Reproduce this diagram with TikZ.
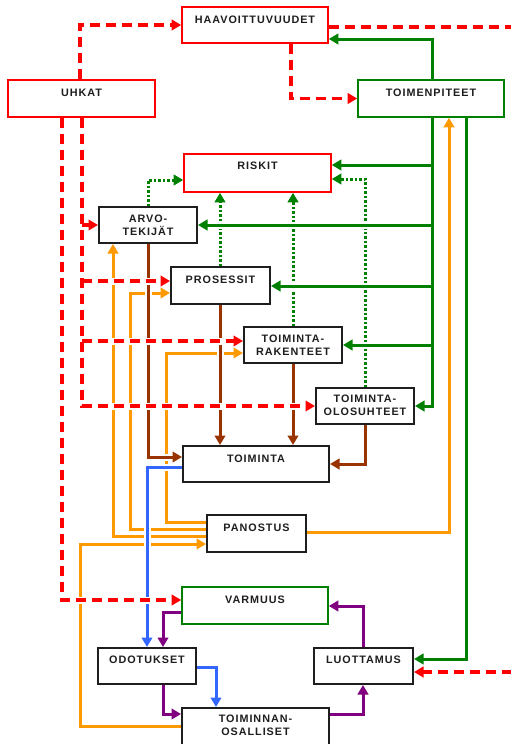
\documentclass[tikz,border=0pt]{standalone}
\usepackage{fontspec}
\setmainfont{Liberation Sans}
\newfontfamily\boxfont[LetterSpace=9.0]{Liberation Sans}
\usetikzlibrary{arrows.meta}
\definecolor{grn}{RGB}{0,128,0}
\definecolor{org}{RGB}{255,153,0}
\definecolor{brn}{RGB}{153,51,0}
\definecolor{blu}{RGB}{51,102,255}
\definecolor{pur}{RGB}{128,0,128}
\definecolor{boxk}{RGB}{30,30,30}
\begin{document}
\begin{tikzpicture}[x=1pt,y=-1pt,
  >={Triangle[length=9.5pt,width=10.5pt]},
  box/.style={draw, fill=white, inner sep=0pt, line width=1.6pt},
  kbox/.style={box, draw=boxk, line width=2pt},
  rbox/.style={box, draw=red},
  gbox/.style={box, draw=grn},
  lbl/.style={font=\boxfont\bfseries\fontsize{10.8}{13}\selectfont, text=boxk, align=center, inner sep=0pt, anchor=north},
  halo/.style={preaction={draw=white, line width=7pt, solid, -, shorten <=4pt, shorten >=2pt}},
  rd/.style={draw=red, line width=3.5pt, dash pattern=on 10pt off 6pt, ->},
  gn/.style={draw=grn, line width=3pt, ->},
  gd/.style={draw=grn, line width=3pt, dash pattern=on 2.5pt off 2pt, ->},
  og/.style={draw=org, line width=3pt, ->},
  bn/.style={draw=brn, line width=3pt, ->},
  bu/.style={draw=blu, line width=3pt, ->},
  pu/.style={draw=pur, line width=3pt, ->}
]
\useasboundingbox (0,0) rectangle (511,744);
\clip (0,0) rectangle (511,744);
% lanes and levels
\foreach \x in {62,80,82,113,130,148,163,166,216,220,291,363,432,449,466,530}
  {\coordinate (X\x) at (\x,0);}
\foreach \y in {27,39,165,179,180,281,286,293,341,353,457,467,522,529,532,536,544,600,606,612,659,667,672,714,726}
  {\coordinate (Y\y) at (0,\y);}
% boxes
\node[rbox, minimum width=146pt, minimum height=36pt] (haav) at (255,25) {};
\node[rbox, minimum width=147pt, minimum height=37pt] (uhkat) at (81.5,98.5) {};
\node[gbox, minimum width=146pt, minimum height=37pt] (toimp) at (431,98.5) {};
\node[rbox, minimum width=147pt, minimum height=38pt] (riskit) at (257.5,173) {};
\node[kbox, minimum width=98pt, minimum height=36pt] (arvo) at (148,225) {};
\node[kbox, minimum width=99pt, minimum height=37pt] (pros) at (220.5,285.5) {};
\node[kbox, minimum width=98pt, minimum height=36pt] (rak) at (293,345) {};
\node[kbox, minimum width=98pt, minimum height=36pt] (olos) at (365,406) {};
\node[kbox, minimum width=146pt, minimum height=36pt] (toim) at (256,464) {};
\node[kbox, minimum width=99pt, minimum height=37pt] (pan) at (256.5,533.5) {};
\node[gbox, minimum width=146pt, minimum height=37pt] (varm) at (255,605.5) {};
\node[kbox, minimum width=98pt, minimum height=36pt] (odo) at (147,666) {};
\node[kbox, minimum width=147pt, minimum height=38pt] (osal) at (255.5,727) {};
\node[kbox, minimum width=99pt, minimum height=36pt] (luot) at (363.5,666) {};
% labels
\node[lbl] (haav-t) at ([yshift=-10pt]haav.north) {HAAVOITTUVUUDET};
\node[lbl] (uhkat-t) at ([yshift=-10pt]uhkat.north) {UHKAT};
\node[lbl] (toimp-t) at ([yshift=-10pt]toimp.north) {TOIMENPITEET};
\node[lbl] (riskit-t) at ([yshift=-9pt]riskit.north) {RISKIT};
\node[lbl] (arvo-t) at ([yshift=-9pt]arvo.north) {ARVO-\\TEKIJÄT};
\node[lbl] (pros-t) at ([yshift=-10pt]pros.north) {PROSESSIT};
\node[lbl] (rak-t) at ([yshift=-9pt]rak.north) {TOIMINTA-\\RAKENTEET};
\node[lbl] (olos-t) at ([yshift=-8pt]olos.north) {TOIMINTA-\\OLOSUHTEET};
\node[lbl] (toim-t) at ([yshift=-10pt]toim.north) {TOIMINTA};
\node[lbl] (pan-t) at ([yshift=-10pt]pan.north) {PANOSTUS};
\node[lbl] (varm-t) at ([yshift=-10pt]varm.north) {VARMUUS};
\node[lbl] (odo-t) at ([yshift=-9pt]odo.north) {ODOTUKSET};
\node[lbl] (osal-t) at ([yshift=-8pt]osal.north) {TOIMINNAN-\\OSALLISET};
\node[lbl] (luot-t) at ([yshift=-9pt]luot.north) {LUOTTAMUS};
% green dotted
\draw[gd] (arvo.north) |- (riskit.west |- Y180);
\draw[gd] (pros.north -| X220) -- (riskit.south -| X220);
\draw[gd] (rak.north) -- (riskit.south -| rak.north);
\draw[gd] (olos.north) |- (riskit.east |- Y179);
% orange
\draw[og] (pan.east |- Y532) -| (toimp.south -| X449);
\draw[og] (pan.west |- Y522) -| (X166 |- Y353) -- (rak.west |- Y353);
\draw[og] (pan.west |- Y529) -| (X130 |- Y293) -- (pros.west |- Y293);
\draw[og] (pan.west |- Y536) -| (arvo.south -| X113);
\draw[og] (osal.west |- Y726) -| (X80 |- Y544) -- (pan.west |- Y544);
% brown
\draw[bn,halo] (arvo.south) |- (toim.west |- Y457);
\draw[bn,halo] (pros.south -| X220) -- (toim.north -| X220);
\draw[bn] (rak.south) -- (toim.north -| rak.south);
\draw[bn] (olos.south) |- (toim.east);
% green solid
\draw[gn] (toimp.north -| X432) |- (haav.east |- Y39);
\draw[gn] (toimp.south -| X432) |- (olos.east);
\draw[gn,halo] (X432 |- Y165) -- (riskit.east |- Y165);
\draw[gn,halo] (X432 |- arvo.east) -- (arvo.east);
\draw[gn,halo] (X432 |- Y286) -- (pros.east |- Y286);
\draw[gn,halo] (X432 |- rak.east) -- (rak.east);
\draw[gn] (toimp.south -| X466) |- (luot.east |- Y659);
% blue
\draw[bu,halo] (toim.west |- Y467) -| (odo.north);
\draw[bu] (odo.east |- Y667) -| (osal.north -| X216);
% red dashed
\draw[rd] (uhkat.north -| X80) |- (haav.west);
\draw[rd] (haav.east |- Y27) -- (X530 |- Y27) -- (X530 |- Y672) -- (luot.east |- Y672);
\draw[rd] (haav.south -| X291) |- (toimp.west);
\draw[rd,halo] (uhkat.south -| X62) |- (varm.west |- Y600);
\draw[rd,halo] (uhkat.south -| X82) |- (olos.west);
\draw[rd,halo] (X82 |- arvo.west) -- (arvo.west);
\draw[rd,halo] (X82 |- Y281) -- (pros.west |- Y281);
\draw[rd,halo] (X82 |- Y341) -- (rak.west |- Y341);
% purple
\draw[pu] (varm.west |- Y612) -| (odo.north -| X163);
\draw[pu] (odo.south -| X163) |- (osal.west |- Y714);
\draw[pu] (osal.east |- Y714) -| (luot.south -| X363);
\draw[pu] (luot.north -| X363) |- (varm.east |- Y606);
\end{tikzpicture}
\end{document}
